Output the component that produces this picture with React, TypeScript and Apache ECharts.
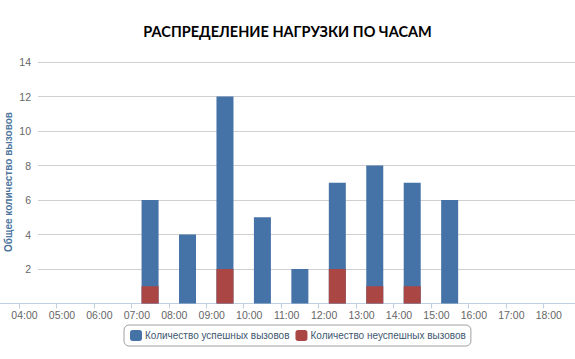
import React, { useEffect, useRef } from "react";
import * as echarts from "echarts";

const chartTitle = "РАСПРЕДЕЛЕНИЕ НАГРУЗКИ ПО ЧАСАМ";
const yAxisTitle = "Общее количество вызовов";
const tickHours = [4, 5, 6, 7, 8, 9, 10, 11, 12, 13, 14, 15, 16, 17, 18];
const barHours = [7, 8, 9, 10, 11, 12, 13, 14, 15];
const successCalls = [5, 4, 10, 5, 2, 5, 7, 6, 6];
const failedCalls = [1, 0, 2, 0, 0, 2, 1, 1, 0];
const successName = "Количество успешных вызовов";
const failedName = "Количество неуспешных вызовов";

const pad = (h: number) => (h < 10 ? "0" + h : "" + h) + ":00";

export default function App() {
  const ref = useRef<HTMLDivElement>(null);
  useEffect(() => {
    if (!ref.current) return;
    const chart = echarts.init(ref.current, undefined, { renderer: "svg" });
    const font = "Liberation Sans, Arial, sans-serif";
    // total height of each column = successful + failed (successful stacked on failed)
    const totals = successCalls.map((s, i) => s + failedCalls[i]);
    const option: any = {
      animation: false,
      title: {
        text: chartTitle,
        left: "center",
        top: 19,
        textStyle: { fontSize: 14.5, fontWeight: "bold", color: "#000", fontFamily: "Lato, Liberation Sans, sans-serif" },
      },
      legend: {
        data: [successName, failedName],
        left: 124,
        top: 325,
        orient: "horizontal",
        borderColor: "#a0a0a0",
        borderWidth: 1,
        borderRadius: 5,
        padding: [5, 5, 5, 6],
        itemWidth: 12,
        itemHeight: 11,
        itemGap: 6,
        icon: "roundRect",
        textStyle: { fontSize: 10, color: "#3e576f", fontFamily: font, padding: [0, 0, 0, -2] },
      },
      graphic: [
        {
          type: "text",
          x: 8,
          y: 182,
          rotation: Math.PI / 2,
          style: {
            text: yAxisTitle,
            fill: "#4d759e",
            font: "bold 10px " + font,
            textAlign: "center",
            textVerticalAlign: "middle",
          },
        },
      ],
      grid: [
        { left: 38, right: 0, top: 62, bottom: 55.5 },
        { left: 0, right: 0, top: 62, bottom: 55.5 },
      ],
      xAxis: [
        { type: "value", gridIndex: 0, show: false, min: 0, max: 1 },
        {
          type: "value",
          gridIndex: 1,
          min: 3.4927,
          max: 18.847,
          splitLine: { show: false },
          axisLine: { show: true, lineStyle: { color: "#c0d0e0", width: 1 } },
          axisTick: { show: true, customValues: tickHours, length: 5, lineStyle: { color: "#c0d0e0" } },
          axisLabel: {
            customValues: tickHours,
            formatter: (v: number) => pad(v),
            color: "#666",
            fontSize: 10.5,
            fontFamily: font,
            margin: 6,
            padding: [0, 0, 0, 11],
          },
        },
      ],
      yAxis: [
        {
          type: "value",
          gridIndex: 0,
          min: 0,
          max: 14,
          interval: 2,
          axisLine: { show: false },
          axisTick: { show: false },
          splitLine: { show: true, showMinLine: false, lineStyle: { color: "#d0d0d0", width: 1 } },
          axisLabel: {
            formatter: (v: number) => (v === 0 ? "" : String(v)),
            color: "#666",
            fontSize: 10.5,
            fontFamily: font,
            margin: 7,
          },
        },
        { type: "value", gridIndex: 1, min: 0, max: 14, show: false },
      ],
      series: [
        {
          name: successName,
          type: "bar",
          xAxisIndex: 1,
          yAxisIndex: 1,
          barWidth: 17,
          barGap: "-100%",
          z: 2,
          itemStyle: { color: "#4572a7" },
          data: barHours.map((h, i) => [h + 0.5, totals[i]]),
        },
        {
          name: failedName,
          type: "bar",
          xAxisIndex: 1,
          yAxisIndex: 1,
          barWidth: 17,
          barGap: "-100%",
          z: 3,
          itemStyle: { color: "#aa4643" },
          data: barHours.map((h, i) => [h + 0.5, failedCalls[i]]),
        },
      ],
    };
    chart.setOption(option);
    return () => chart.dispose();
  }, []);
  return <div ref={ref} style={{ width: 575, height: 359, position: "absolute", left: 0, top: 0 }} />;
}
